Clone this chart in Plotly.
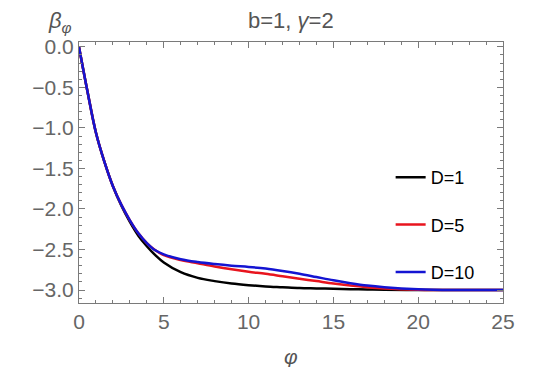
import plotly.graph_objects as go

# phi values and curves
phi = [0, 0.5, 1, 1.5, 2, 2.5, 3, 3.5, 4, 4.5, 5, 6, 7, 8, 9, 10, 11, 12, 13,
       14, 15, 16, 17, 18, 20, 22, 25]
beta_d1 = [0, -0.55, -1.06, -1.42, -1.72, -1.96, -2.16, -2.33, -2.46, -2.57,
           -2.66, -2.78, -2.85, -2.89, -2.92, -2.94, -2.955, -2.965, -2.975,
           -2.98, -2.985, -2.99, -2.993, -2.996, -3.0, -3.0, -3.0]
beta_d5 = [0, -0.55, -1.06, -1.42, -1.72, -1.95, -2.14, -2.30, -2.42, -2.51,
           -2.57, -2.63, -2.67, -2.71, -2.745, -2.775, -2.80, -2.83, -2.86,
           -2.89, -2.92, -2.945, -2.965, -2.98, -2.995, -3.0, -3.0]
beta_d10 = [0, -0.55, -1.06, -1.42, -1.72, -1.95, -2.14, -2.30, -2.42, -2.51,
            -2.56, -2.62, -2.655, -2.68, -2.70, -2.715, -2.735, -2.765, -2.80,
            -2.84, -2.88, -2.915, -2.945, -2.965, -2.99, -3.0, -3.0]

series = [("D=1", beta_d1, "black"), ("D=5", beta_d5, "#e8141e"),
          ("D=10", beta_d10, "#1414d2")]

fig = go.Figure()
for name, ys, col in series:
    fig.add_trace(go.Scatter(x=phi, y=ys, mode="lines", name=name,
                             legendgroup=name, line=dict(color=col, width=2.5, shape="spline")))

axis_common = dict(showline=True, linecolor="#7a7a7a", linewidth=1, mirror="ticks",
                   ticks="inside", ticklen=6, tickcolor="#7a7a7a", showgrid=False,
                   zeroline=False, automargin=False,
                   tickfont=dict(size=21, color="#666666"))

fig.update_xaxes(range=[0, 25], tickvals=[0, 5, 10, 15, 20, 25],
                 minor=dict(dtick=1, ticks="inside", ticklen=3, tickcolor="#7a7a7a"),
                 **axis_common)
fig.update_yaxes(range=[-3.16, 0.06], tickvals=[0, -0.5, -1, -1.5, -2, -2.5, -3],
                 ticktext=["0.0", "−0.5", "−1.0", "−1.5", "−2.0", "−2.5", "−3.0"],
                 minor=dict(dtick=0.1, ticks="inside", ticklen=3, tickcolor="#7a7a7a"),
                 **axis_common)

# page body adds an 8px margin, so the figure is trimmed by that amount
fig.update_layout(
    width=532, height=359,
    margin=dict(l=71, r=37, t=34, b=64),
    plot_bgcolor="white", paper_bgcolor="white",
    font=dict(family="Liberation Sans, Arial, sans-serif"),
    showlegend=True,
    legend=dict(x=0.735, y=0.552, xanchor="left", yanchor="top", bgcolor="rgba(0,0,0,0)",
                font=dict(size=18, color="black"), tracegroupgap=21, itemwidth=30),
    annotations=[
        dict(text="b=1, <i>γ</i>=2", x=0.5, y=1.0, xref="paper", yref="paper",
             yanchor="bottom", yshift=7, showarrow=False, font=dict(size=22, color="#555555")),
        dict(text="<i>β</i><sub><i>φ</i></sub>", x=-0.045, y=1.0, xref="paper", yref="paper",
             xanchor="center", yanchor="bottom", yshift=4, showarrow=False,
             font=dict(size=22, color="#555555")),
        dict(text="<i>φ</i>", x=0.5, y=0, xref="paper", yref="paper",
             yanchor="top", yshift=-40, showarrow=False, font=dict(size=21, color="#555555")),
    ],
)

fig.write_html("out.html")
